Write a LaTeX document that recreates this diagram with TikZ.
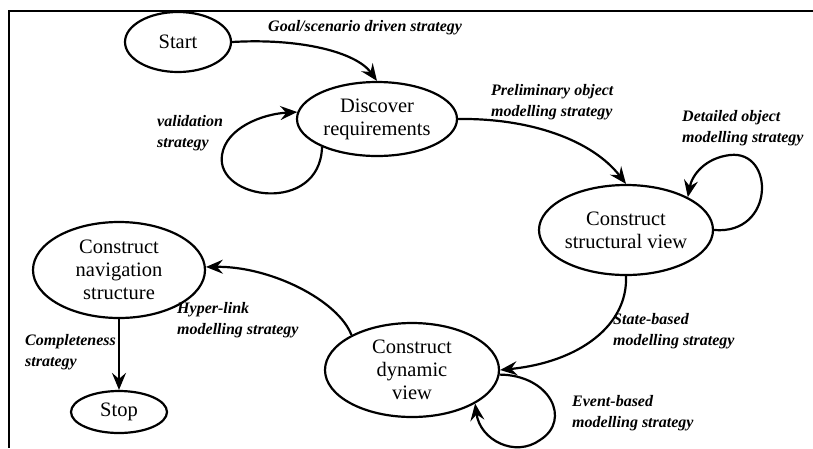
\documentclass[tikz,border=0pt]{standalone}
\usepackage{fontspec}
\setmainfont{Liberation Serif}
\usetikzlibrary{shapes.geometric,arrows.meta}

\tikzset{
  state/.style={draw, ellipse, line width=2.2pt, inner sep=0pt, align=center,
    font=\fontsize{20.5}{23}\selectfont},
  flow/.style={line width=2.2pt, -{Stealth[length=17pt,width=14pt,inset=6pt]}},
  strategy/.style={anchor=west, align=left, inner sep=0pt,
    font=\fontsize{16}{20.5}\selectfont\bfseries\itshape},
  frameline/.style={line width=2.4pt}
}

\begin{document}
\begin{tikzpicture}[x=1pt,y=-1pt]
  \useasboundingbox (0,0) rectangle (813,448);

  % open frame: top and left edges
  \draw[frameline] (813,11) -- (9,11) -- (9,448);

  % states
  \node[state, minimum width=106pt, minimum height=60pt] (start) at (178,42) {Start};
  \node[state, minimum width=160pt, minimum height=74pt] (disc) at (377,119) {Discover\\requirements\rule[-4pt]{0pt}{0pt}};
  \node[state, minimum width=174pt, minimum height=90pt] (struct) at (626,230) {Construct\\structural view};
  \node[state, minimum width=174pt, minimum height=94pt] (dyn) at (412,370) {Construct\\dynamic\\view};
  \node[state, minimum width=172pt, minimum height=96pt] (nav) at (119,270) {Construct\\navigation\\structure};
  \node[state, minimum width=96pt, minimum height=42pt] (stop) at (119,412) {Stop};

  % transitions
  \draw[flow] (start.east) .. controls (300,38) and (356,52) .. (disc.north);
  \draw[flow] (disc.east) .. controls (530,118) and (592,140) .. (struct.north);
  \draw[flow] (disc.207) .. controls (320,215) and (215,200) .. (222,155)
                         .. controls (226,128) and (262,114) .. (disc.175);
  \draw[flow] (struct.east) .. controls (775,235) and (775,150) .. (730,155)
                            .. controls (705,158) and (692,175) .. (struct.28);
  \draw[flow] (struct.south) .. controls (628,325) and (580,362) .. (dyn.east);
  \draw[flow] (dyn.-3) .. controls (550,375) and (572,420) .. (540,440)
                       .. controls (515,458) and (480,440) .. (dyn.-28);
  \draw[flow] (dyn.150) .. controls (338,300) and (270,266) .. (nav.2);
  \draw[flow] (nav.south) -- (stop.north);

  % strategy labels
  \node[strategy] (lgoal) at (268,28) {Goal/scenario driven strategy};
  \node[strategy] (lprelim) at (491,102) {Preliminary object\\modelling strategy};
  \node[strategy] (lvalid) at (157,133) {validation\\strategy};
  \node[strategy] (ldetail) at (682,128) {Detailed object\\modelling strategy};
  \node[strategy] (lstate) at (613,331) {State-based\\modelling strategy};
  \node[strategy] (levent) at (572,413) {Event-based\\modelling strategy};
  \node[strategy] (lhyper) at (177,320) {Hyper-link\\modelling strategy};
  \node[strategy] (lcompl) at (25,352) {Completeness\\strategy};
\end{tikzpicture}
\end{document}
